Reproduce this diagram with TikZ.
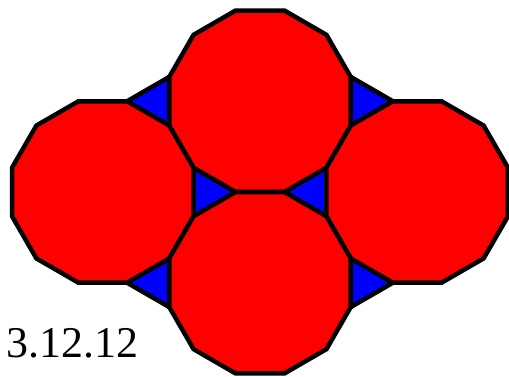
\documentclass[tikz,border=0pt]{standalone}
\usepackage{fontspec}
\setmainfont{Liberation Serif}
\usepackage{tikz}
\usetikzlibrary{shapes.geometric}
\definecolor{tilered}{HTML}{FF0000}
\definecolor{tileblue}{HTML}{0000FF}

\begin{document}
\begin{tikzpicture}[x=0.02cm, y=-0.02cm,
  dodeca/.style={draw,regular polygon,regular polygon sides=12,minimum size=3.758cm,inner sep=0pt,fill=tilered,line width=0.09cm},
  trig/.style={draw,regular polygon,regular polygon sides=3,minimum size=1.123cm,inner sep=0pt,fill=tileblue,line width=0.09cm}]
  \useasboundingbox (0,0) rectangle (509,377);
  % triangles
  \node[trig,shape border rotate=90] (tl) at (155.2,101.25) {};
  \node[trig,shape border rotate=-90] (tr) at (364.8,101.25) {};
  \node[trig,shape border rotate=-90] (ml) at (207.6,192) {};
  \node[trig,shape border rotate=90] (mr) at (312.4,192) {};
  \node[trig,shape border rotate=90] (bl) at (155.2,282.75) {};
  \node[trig,shape border rotate=-90] (br) at (364.8,282.75) {};
  % dodecagons
  \node[dodeca] (top) at (260,101.25) {};
  \node[dodeca] (left) at (102.8,192) {};
  \node[dodeca] (right) at (417.2,192) {};
  \node[dodeca] (bottom) at (260,282.75) {};
  \node[anchor=base west,inner sep=0pt,font=\fontsize{25}{30}\selectfont] (name) at (6,357) {3.12.12};
\end{tikzpicture}
\end{document}
